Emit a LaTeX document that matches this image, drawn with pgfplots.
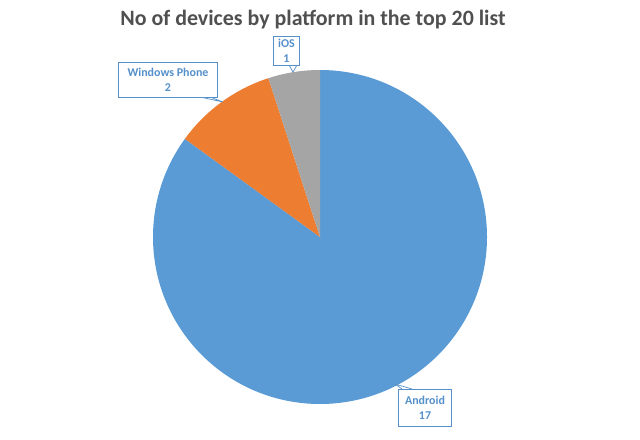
\documentclass[border=0pt]{standalone}
\usepackage{pgfplots}
\usepackage{pgfplotstable}
\pgfplotsset{compat=1.18}
\usepackage{fontspec}
\setmainfont{Carlito}

\definecolor{andblue}{HTML}{5B9BD5}
\definecolor{wporange}{HTML}{ED7D31}
\definecolor{iosgray}{HTML}{A5A5A5}
\definecolor{titlegray}{HTML}{505050}
\definecolor{lblblue}{HTML}{5590CB}

% devices per platform in the top 20 list
\pgfplotstableread{
platform value
Android 17
WindowsPhone 2
iOS 1
}\devices

\begin{document}
\begin{tikzpicture}
\pgfplotstablegetelem{0}{value}\of\devices \let\vA\pgfplotsretval
\pgfplotstablegetelem{1}{value}\of\devices \let\vW\pgfplotsretval
\pgfplotstablegetelem{2}{value}\of\devices \let\vI\pgfplotsretval
\pgfmathsetmacro\total{\vA+\vW+\vI}
% slices start at 12 o'clock and run clockwise
\pgfmathsetmacro\aA{90-360*\vA/\total}
\pgfmathsetmacro\aW{\aA-360*\vW/\total}
\pgfmathsetmacro\aI{\aW-360*\vI/\total}
\begin{axis}[
  width=640bp, height=439bp, scale only axis,
  xmin=0, xmax=640, ymin=0, ymax=439,
  axis lines=none, clip=false,
]
% keep the full canvas as bounding box
\path (rel axis cs:0,0) rectangle (rel axis cs:1,1);
\def\cx{320}\def\cy{202}\def\r{167bp}
\fill[andblue] (axis cs:\cx,\cy) -- ++(90:\r) arc[start angle=90, end angle=\aA, radius=\r] -- cycle;
\fill[wporange] (axis cs:\cx,\cy) -- ++(\aA:\r) arc[start angle=\aA, end angle=\aW, radius=\r] -- cycle;
\fill[iosgray] (axis cs:\cx,\cy) -- ++(\aW:\r) arc[start angle=\aW, end angle=\aI, radius=\r] -- cycle;

\node[font=\bfseries\fontsize{22}{26}\selectfont, text=titlegray]
  at (axis cs:313,419) {No of devices by platform in the top 20 list};

% callout labels
\tikzset{callout/.style={draw=lblblue, fill=white, line width=0.7pt,
  text=lblblue, font=\bfseries\fontsize{12}{15}\selectfont, align=center,
  inner sep=0pt}}
\draw[lblblue, line width=0.7pt, fill=white] (axis cs:289,374) -- (axis cs:293,367) -- (axis cs:297,374);
\node[callout, minimum width=26bp, minimum height=29bp] at (axis cs:286.5,388) {iOS\\1};
\draw[lblblue, line width=0.7pt, fill=white] (axis cs:200,342) -- (axis cs:223,337) -- (axis cs:210,342);
\node[callout, minimum width=99bp, minimum height=35bp] at (axis cs:168,359.5) {Windows Phone\\2};
\draw[lblblue, line width=0.7pt, fill=white] (axis cs:402,50) -- (axis cs:395,55) -- (axis cs:412,50);
\node[callout, minimum width=53bp, minimum height=37bp] at (axis cs:425,31.5) {Android\\17};
\end{axis}
\end{tikzpicture}
\end{document}
